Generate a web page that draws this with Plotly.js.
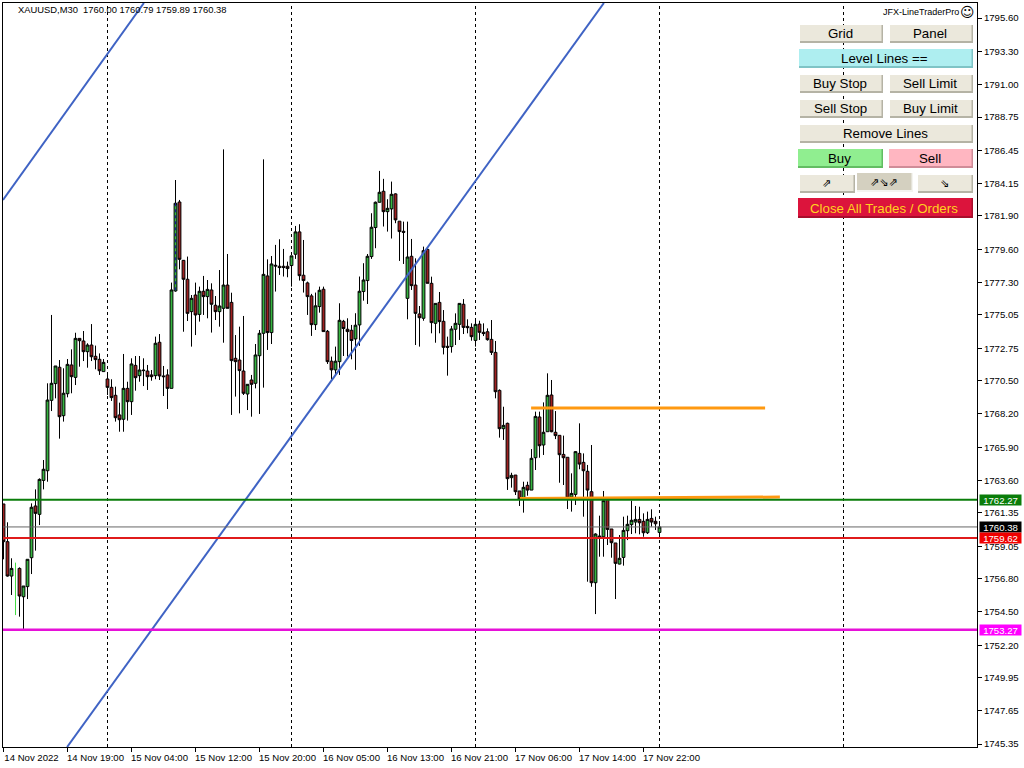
<!DOCTYPE html>
<html><head><meta charset="utf-8">
<script src="https://cdn.plot.ly/plotly-3.0.1.min.js"></script>
<style>html,body{margin:0;padding:0;background:#fff}#c{width:1024px;height:768px}</style>
</head><body><div id="c"></div>
<script>
const opens=[1761.97,1759.36,1756.98,null,1757.51,1755.55,1756.25,1758.25,1761.83,1761.25,
1763.60,1764.27,1769.14,1770.30,1771.43,1768.08,1769.60,1771.59,1770.73,1773.43,
1773.25,1772.51,1772.97,1772.19,1771.98,1771.13,1770.62,1770.04,1769.49,1768.13,
1767.83,1769.97,1769.05,1771.56,1770.85,1771.24,1771.17,1770.90,1770.85,1773.16,
1770.83,1770.90,1769.97,1776.71,1782.87,1778.83,1777.52,1775.28,1776.43,1775.09,
1776.69,1776.32,1776.78,1775.72,1775.28,1775.51,1777.12,1775.92,1772.05,1771.93,
1771.17,1769.58,1770.55,1770.32,1772.23,1773.78,1777.75,1773.83,1778.49,1778.42,
1778.42,1778.42,1778.47,1779.25,1780.80,1777.80,1777.27,1776.37,1774.38,1775.63,
1776.83,1773.92,1771.85,1771.25,1771.82,1774.61,1774.06,1773.99,1773.39,1774.36,
1776.67,1777.43,1779.09,1781.10,1782.85,1783.61,1782.20,1782.39,1783.43,1781.54,
1780.84,1776.20,1779.11,1777.12,1775.12,1774.82,1779.59,1777.24,1774.47,1775.92,
1774.61,1772.88,1772.86,1774.06,1774.40,1775.79,1774.26,1774.19,1773.29,1774.42,
1773.85,1773.89,1773.36,1772.46,1769.83,1767.18,1767.55,1763.79,1763.97,1762.87,
1762.36,1763.26,1762.93,1765.17,1767.99,1766.05,1766.97,1769.51,1766.93,1766.72,
1765.40,1765.20,1762.45,1762.63,1765.47,1764.85,1764.23,1762.82,1756.52,1759.75,
1759.70,1762.36,1760.24,1759.27,1757.81,1758.27,1760.12,1760.54,1760.72,1760.90,
1760.77,1759.98,1760.97,1760.77,1760.00];
const highs=[1761.97,1760.70,1758.21,null,1757.58,1756.29,1758.14,1762.01,1762.98,1763.74,
1765.01,1770.32,1775.05,1771.52,1771.93,1771.36,1772.00,1772.67,1773.82,1773.43,
1773.94,1773.09,1774.42,1772.93,1772.39,1772.00,1770.94,1770.60,1770.09,1768.98,
1772.35,1770.43,1772.05,1772.21,1772.21,1772.05,1771.59,1771.24,1773.55,1773.73,
1771.52,1771.29,1777.29,1784.39,1783.01,1778.85,1779.09,1776.43,1777.29,1777.01,
1777.75,1777.47,1777.24,1776.36,1778.16,1786.51,1779.27,1776.59,1773.66,1774.24,
1774.98,1770.25,1770.90,1773.04,1774.01,1785.82,1778.90,1779.13,1779.90,1780.29,
1779.62,1778.74,1779.14,1781.21,1781.33,1780.24,1777.36,1776.51,1776.60,1777.01,
1777.01,1774.01,1772.17,1772.86,1775.86,1774.71,1774.82,1774.36,1775.17,1777.71,
1778.63,1779.27,1782.09,1782.90,1785.02,1784.47,1783.06,1784.28,1783.47,1781.54,
1781.51,1781.51,1780.31,1778.97,1775.67,1779.78,1779.66,1777.70,1775.85,1776.64,
1775.39,1773.55,1774.29,1775.16,1775.85,1776.15,1774.75,1774.47,1774.70,1774.65,
1774.47,1774.12,1774.70,1773.25,1769.90,1768.70,1767.60,1764.13,1763.97,1762.87,
1763.51,1763.51,1765.77,1768.36,1768.36,1769.00,1771.01,1770.55,1768.40,1766.72,
1766.70,1765.20,1764.09,1765.63,1767.55,1765.47,1764.67,1766.05,1759.94,1761.16,
1762.87,1762.36,1760.24,1759.27,1759.82,1761.09,1761.16,1762.20,1761.83,1761.78,
1761.32,1761.44,1761.60,1761.09,1760.79];
const lows=[1758.14,1756.94,1755.67,null,1754.17,1753.32,1755.39,1757.12,1758.74,1760.51,
1762.98,1763.51,1768.40,1769.28,1766.49,1767.67,1769.35,1769.63,1770.20,1771.47,
1771.86,1771.40,1771.86,1771.29,1770.90,1771.13,1769.51,1769.10,1767.67,1766.97,
1766.97,1767.74,1768.13,1769.81,1770.43,1770.13,1769.86,1770.50,1770.60,1770.55,
1769.44,1768.54,1769.97,1776.66,1778.21,1773.89,1774.63,1772.86,1773.66,1774.59,
1775.05,1774.82,1773.83,1774.70,1774.24,1773.13,1775.51,1768.13,1769.40,1768.24,
1769.51,1768.47,1768.01,1769.97,1768.20,1770.02,1772.63,1773.04,1776.67,1777.82,
1777.71,1777.66,1777.01,1778.93,1777.43,1776.60,1775.05,1773.60,1774.01,1775.21,
1773.90,1771.66,1770.60,1770.90,1770.90,1772.21,1772.17,1771.98,1771.25,1772.91,
1776.04,1775.81,1778.93,1779.67,1782.83,1781.17,1780.82,1780.34,1781.40,1778.79,
1778.58,1774.75,1776.78,1772.97,1772.86,1774.65,1777.24,1773.78,1773.13,1773.78,
1772.32,1770.85,1772.44,1772.97,1773.32,1773.73,1773.78,1773.27,1772.86,1773.32,
1773.59,1773.27,1772.28,1769.28,1766.56,1766.40,1762.94,1763.10,1762.59,1761.83,
1761.37,1762.54,1762.93,1764.32,1765.17,1765.36,1766.97,1766.93,1766.46,1763.44,
1763.28,1761.62,1761.44,1761.90,1764.37,1761.09,1756.59,1756.24,1754.35,1758.32,
1758.32,1759.13,1758.25,1755.39,1757.79,1757.70,1759.47,1759.89,1759.94,1759.87,
1759.70,1759.89,1760.40,1760.17,1759.89];
const closes=[1759.36,1756.98,1757.51,null,1755.60,1756.29,1758.14,1761.74,1761.32,1763.67,
1764.37,1769.16,1770.32,1771.52,1768.01,1769.63,1771.63,1770.78,1773.43,1773.27,
1772.51,1772.97,1772.16,1771.96,1771.19,1771.77,1770.04,1769.33,1767.94,1767.80,
1769.97,1769.05,1771.66,1770.71,1771.24,1771.20,1770.78,1770.78,1773.09,1770.83,
1770.78,1769.97,1776.78,1782.78,1778.90,1777.52,1775.16,1776.20,1775.05,1776.69,
1776.32,1776.82,1775.79,1775.28,1775.67,1777.12,1775.51,1771.89,1771.82,1771.20,
1769.63,1770.25,1770.25,1772.28,1773.78,1777.86,1773.83,1778.58,1778.44,1778.33,
1778.33,1778.26,1779.14,1780.80,1777.77,1777.43,1776.32,1774.38,1775.68,1776.76,
1773.90,1771.82,1771.25,1771.85,1774.68,1774.11,1773.90,1773.28,1774.34,1776.69,
1777.47,1779.11,1781.12,1782.85,1783.54,1782.20,1782.43,1783.40,1781.63,1780.82,
1780.77,1779.06,1777.08,1775.16,1774.86,1779.50,1777.24,1774.52,1775.85,1774.59,
1772.81,1772.81,1774.08,1774.47,1775.85,1774.19,1774.17,1773.55,1774.40,1773.85,
1773.76,1773.34,1772.46,1769.74,1767.18,1767.41,1763.72,1763.95,1762.82,1762.31,
1763.12,1762.93,1765.13,1768.03,1766.00,1766.93,1769.49,1766.97,1766.70,1765.38,
1765.17,1762.38,1762.70,1765.59,1764.73,1764.27,1762.93,1756.52,1759.89,1759.68,
1762.20,1760.21,1759.29,1757.86,1758.21,1760.14,1760.56,1760.84,1760.90,1760.67,
1759.98,1760.90,1760.72,1760.60,1760.38];

const priceTickVals=[1795.60,1793.30,1791.00,1788.75,1786.45,1784.15,1781.90,1779.60,1777.30,1775.05,1772.75,1770.50,1768.20,1765.90,1763.60,1761.35,1759.05,1756.80,1754.50,1752.20,1749.95,1747.65,1745.35];
const timeTickBars=[0,16,32,48,64,80,96,112,128,144,160];
const timeTickLabels=["14 Nov 2022","14 Nov 19:00","15 Nov 04:00","15 Nov 12:00","15 Nov 20:00","16 Nov 05:00","16 Nov 13:00","16 Nov 21:00","17 Nov 06:00","17 Nov 14:00","17 Nov 22:00"];
const separatorBars=[26,72,118,164,210];

const levelPrices=[1762.27,1760.38,1759.62,1753.27];
const levelColors=["#0a7d0a","#666666","#e01b1b","#e610d8"];
const levelWidths=[2,1,2,2.5];
const tagColors=["#0a7d0a","#000000","#f00000","#ff00ff"];

const trendABars=[-0.125,35.1], trendAPrices=[1783.01,1796.64];
const trendBBars=[15.9,150.1], trendBPrices=[1745.15,1796.64];
const orangeUpperBars=[131.9,190.4], orangeUpperPrices=[1768.61,1768.61];
const orangeLowerBars=[129.1,194.1], orangeLowerPrices=[1762.35,1762.45];
const accentBars=[3,3], accentPrices=[1757.91,1754.28];
const blueDashBars=[43,43], blueDashPrices=[1782.78,1776.71];

const bars=opens.map((_,i)=>i);
const X0=3,X1=977,Y0=3,Y1=747;
const px=x=>(x-X0)/(X1-X0), py=y=>(Y1-y)/(Y1-Y0);

const traces=[
 {type:'candlestick',x:bars,open:opens,high:highs,low:lows,close:closes,whiskerwidth:0,hoverinfo:'skip',showlegend:false,
  increasing:{line:{color:'#000',width:1},fillcolor:'#35b540'},
  decreasing:{line:{color:'#000',width:1},fillcolor:'#a02020'}},
 {x:accentBars,y:accentPrices,mode:'lines',line:{color:'#44dd44',width:1},hoverinfo:'skip',showlegend:false},
 {x:blueDashBars,y:blueDashPrices,mode:'lines',line:{color:'#1a1a9a',width:1,dash:'3px,3px'},hoverinfo:'skip',showlegend:false},
 {x:orangeLowerBars,y:orangeLowerPrices,mode:'lines',line:{color:'#ff9911',width:3},hoverinfo:'skip',showlegend:false},
 {x:orangeUpperBars,y:orangeUpperPrices,mode:'lines',line:{color:'#ff9911',width:3},hoverinfo:'skip',showlegend:false},
 {x:trendABars,y:trendAPrices,mode:'lines',line:{color:'#3f63c4',width:2},hoverinfo:'skip',showlegend:false},
 {x:trendBBars,y:trendBPrices,mode:'lines',line:{color:'#3f63c4',width:2},hoverinfo:'skip',showlegend:false}
];
const BF="Liberation Sans, Arial, sans-serif";
const shapes=[], annotations=[];
levelPrices.forEach((p,i)=>{
 if(levelWidths[i]===1) shapes.push({type:'line',layer:'above',xref:'paper',yref:'y',x0:0,x1:1,y0:p,y1:p,line:{color:levelColors[i],width:1}});
 else traces.push({x:[-0.125,243.375],y:[p,p],mode:'lines',line:{color:levelColors[i],width:levelWidths[i]},hoverinfo:'skip',showlegend:false});
});
separatorBars.forEach(b=>shapes.push({type:'line',layer:'below',xref:'x',yref:'paper',x0:b,x1:b,y0:0,y1:1,line:{color:'#000',width:1,dash:'3px,3px'}}));

const buttonLabels=["Grid","Panel","Level Lines ==","Buy Stop","Sell Limit","Sell Stop","Buy Limit","Remove Lines","Buy","Sell","⇗","⇗⇘⇗","⇘","Close All Trades / Orders"];
const buttonBoxes=[[800,25,883,43],[890,25,973,43],[799,49,973,68],[800,75,883,93],[890,75,973,93],[800,100,883,118],[890,100,973,118],[800,125,973,143],[798,149,883,168],[889,149,973,168],[800,175,855,193],[857,173,913,192],[918,175,973,193],[798,198,973,218]];
const buttonFills=["#ebe8dc","#ebe8dc","#aeeef0","#ebe8dc","#ebe8dc","#ebe8dc","#ebe8dc","#ebe8dc","#90ee90","#ffb6c1","#ebe8dc","#d4d0c0","#ebe8dc","#dc143c"];
const buttonEdges=["#b5b3a5","#b5b3a5","#7fc4c6","#b5b3a5","#b5b3a5","#b5b3a5","#b5b3a5","#b5b3a5","#62bd62","#d08c98","#b5b3a5","#f4f4f0","#b5b3a5","#a80e2c"];
const buttonText=["#000","#000","#000","#000","#000","#000","#000","#000","#000","#000","#000","#000","#000","#ffd21e"];
buttonLabels.forEach((t,i)=>{
 const [a,b,c,d]=buttonBoxes[i];
 shapes.push({type:'rect',xref:'paper',yref:'paper',x0:px(a),x1:px(c),y0:py(d),y1:py(b),fillcolor:buttonEdges[i],line:{width:0}});
 shapes.push({type:'rect',xref:'paper',yref:'paper',x0:px(a),x1:px(c-1.5),y0:py(d-2),y1:py(b),fillcolor:buttonFills[i],line:{width:0}});
 const arrow=i>=10&&i<=12;
 annotations.push({xref:'paper',yref:'paper',x:px((a+c)/2-1.5),y:py((b+d)/2-0.5+(i===13?1:0)),text:t,showarrow:false,xanchor:'center',yanchor:'middle',
   font:{family:arrow?"DejaVu Sans":BF,size:arrow?11:13.3,color:buttonText[i]}});
});
levelPrices.forEach((p,i)=>annotations.push({xref:'paper',yref:'y',x:px(1000.5),y:p,text:p.toFixed(2),showarrow:false,xanchor:'center',yanchor:'middle',
  width:41,height:10,bgcolor:tagColors[i],borderpad:0,font:{family:BF,size:9.6,color:'#fff'}}));
annotations.push({xref:'paper',yref:'paper',x:px(16),y:py(10),text:"XAUUSD,M30&nbsp;&nbsp;1760.00 1760.79 1759.89 1760.38",showarrow:false,xanchor:'left',yanchor:'middle',font:{family:BF,size:9.4,color:'#000'}});
annotations.push({xref:'paper',yref:'paper',x:px(960.5),y:py(12),text:"JFX-LineTraderPro",showarrow:false,xanchor:'right',yanchor:'middle',font:{family:BF,size:9,color:'#000'}});
annotations.push({xref:'paper',yref:'paper',x:px(967),y:py(12),text:"☺",showarrow:false,xanchor:'center',yanchor:'middle',font:{family:"DejaVu Sans",size:14,color:'#000'}});

const layout={width:1024,height:768,paper_bgcolor:'#fff',plot_bgcolor:'#fff',boxgap:0.3,boxgroupgap:0,
 margin:{l:X0,r:1024-X1,t:Y0,b:768-Y1,pad:0},showlegend:false,shapes,annotations,
 xaxis:{type:'linear',range:[-0.125,243.375],rangeslider:{visible:false},showgrid:false,zeroline:false,showline:true,mirror:true,linecolor:'#000',linewidth:1,
   tickmode:'array',tickvals:timeTickBars,ticktext:timeTickLabels,ticks:'outside',ticklen:4,tickcolor:'#000',tickwidth:1,ticklabelshift:28,ticklabelstandoff:-3,tickangle:0,tickfont:{family:BF,size:9.6,color:'#000'}},
 yaxis:{side:'right',range:[1745.15,1796.64],showgrid:false,zeroline:false,showline:true,mirror:true,linecolor:'#000',linewidth:1,
   tickmode:'array',tickvals:priceTickVals,ticktext:priceTickVals.map(v=>v.toFixed(2)),ticks:'outside',ticklen:4,tickcolor:'#000',tickwidth:1,tickfont:{family:BF,size:9.6,color:'#000'}}
};
Plotly.newPlot('c',traces,layout,{staticPlot:true,displayModeBar:false});
</script></body></html>
